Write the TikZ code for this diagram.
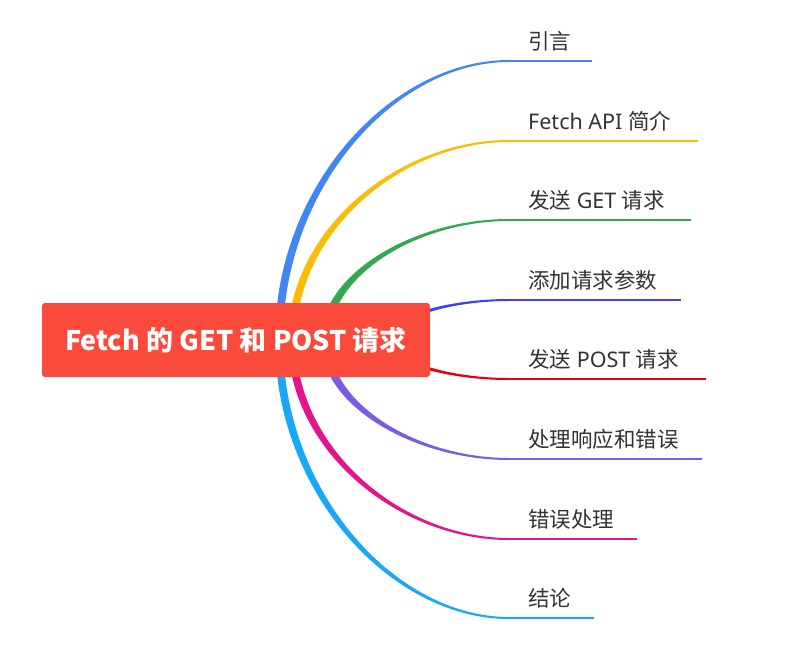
\documentclass[tikz,border=0pt]{standalone}
\usepackage{fontspec}
\setmainfont{Noto Sans}
\newfontfamily\cjk{Noto Sans CJK SC}
\usetikzlibrary{calc}
\definecolor{rootred}{RGB}{250,74,60}
\definecolor{txt}{RGB}{51,51,51}
\definecolor{cA}{RGB}{66,133,244}
\definecolor{cB}{RGB}{251,188,5}
\definecolor{cC}{RGB}{52,168,83}
\definecolor{cD}{RGB}{64,64,242}
\definecolor{cE}{RGB}{230,0,18}
\definecolor{cF}{RGB}{123,92,230}
\definecolor{cG}{RGB}{226,21,142}
\definecolor{cH}{RGB}{24,168,245}
% #1 id, #2 start x, #3 end y, #4 underline end x, #5 colour, #6 half start width, #7 text
\newcommand\mmbranch[7]{%
  \pgfmathsetmacro\sg{ifthenelse(#3>340,1,-1)}%
  \pgfmathsetmacro\bb{abs(#3-340)}%
  \pgfmathsetmacro\aa{509-#2}%
  \coordinate (s#1) at (#2,340);
  \coordinate (e#1) at (509,#3);
  \coordinate (f#1) at (#4,#3);
  \fill[#5] ($(s#1)+(-#6,0)$)
    .. controls ($(s#1)+(-#6,{\sg*0.552*(\bb+1)})$) and ($(e#1)+({-0.5*(\aa+#6)},\sg)$)
    .. ($(e#1)+(0,\sg)$) -- ($(e#1)+(0,-\sg)$)
    .. controls ($(e#1)+({-0.5*(\aa-#6)},-\sg)$) and ($(s#1)+(#6,{\sg*0.552*(\bb-1)})$)
    .. ($(s#1)+(#6,0)$) -- cycle;
  \draw[underline,#5] (e#1) -- (f#1);
  \node[branchlabel] (t#1) at ($(e#1)+(19,-12)$) {#7};
}
\begin{document}
\begin{tikzpicture}[x=1pt,y=-1pt,
  branchlabel/.style={anchor=base west,inner sep=0pt,text=txt,font=\fontsize{21.5}{21.5}\selectfont},
  underline/.style={line width=2pt},
  rootbox/.style={fill=rootred,rounded corners=3pt,minimum width=388pt,minimum height=74pt,
    text=white,font=\cjk\fontsize{27}{27}\selectfont\bfseries,inner sep=0pt}]
\fill[white] (0,0) rectangle (806,670);
\useasboundingbox (0,0) rectangle (806,670);
\mmbranch{1}{279}{61}{592}{cA}{4}{{\cjk 引言}}
\mmbranch{2}{292}{141}{698}{cB}{4}{Fetch API {\cjk 简介}}
\mmbranch{3}{325}{220}{691}{cC}{4.5}{{\cjk 发送} GET {\cjk 请求}}
\mmbranch{4}{387}{300}{681}{cD}{4.5}{{\cjk 添加请求参数}}
\mmbranch{5}{387}{379}{706}{cE}{4.5}{{\cjk 发送} POST {\cjk 请求}}
\mmbranch{6}{325}{459}{702}{cF}{4.5}{{\cjk 处理响应和错误}}
\mmbranch{7}{292}{539}{637}{cG}{4}{{\cjk 错误处理}}
\mmbranch{8}{279}{618}{594}{cH}{4}{{\cjk 结论}}
\node[rootbox] (root) at (236,340) {Fetch 的 GET 和 POST 请求};
\end{tikzpicture}
\end{document}
